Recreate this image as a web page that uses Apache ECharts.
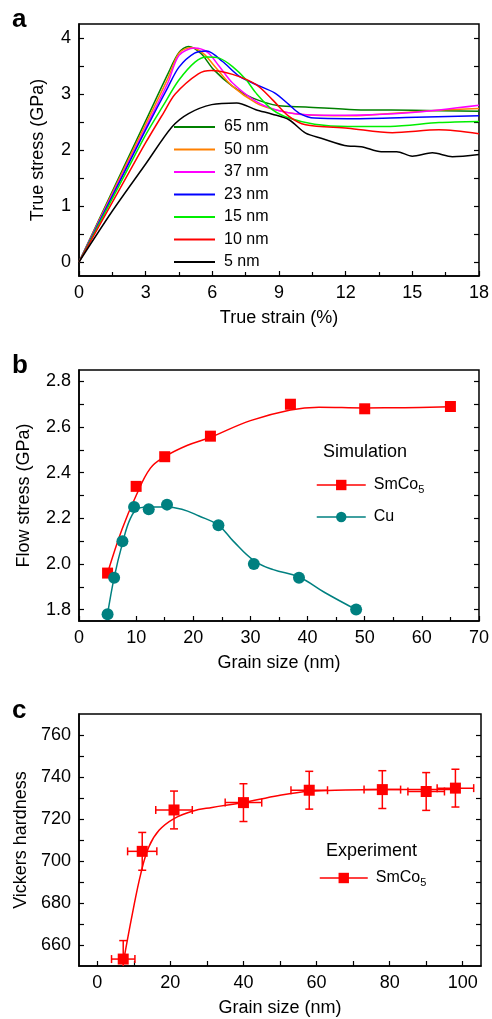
<!DOCTYPE html>
<html>
<head>
<meta charset="utf-8">
<script src="https://cdn.jsdelivr.net/npm/echarts@6/dist/echarts.min.js"></script>
<style>
  html, body { margin: 0; padding: 0; background: #fff; }
  #chart { width: 492px; height: 1019px; }
</style>
</head>
<body>
<div id="chart"></div>
<script>
// ---- panel a: true stress (GPa) vs true strain (%) per grain size ----
var strain65 = [0, 2, 3, 4, 4.5, 4.93, 5.5, 6.05, 6.9, 7.8, 9.0, 10.2, 12.4, 15, 18]
var stress65 = [0, 1.68, 2.52, 3.36, 3.74, 3.85, 3.72, 3.44, 3.14, 2.93, 2.79, 2.77, 2.72, 2.71, 2.69]
var strain50 = [0, 2, 3, 4, 4.5, 5.05, 5.6, 6.2, 6.9, 7.96, 8.7, 9.9, 12.1, 13.2, 16.2, 18]
var stress50 = [0, 1.64, 2.46, 3.28, 3.73, 3.83, 3.72, 3.45, 3.14, 2.84, 2.73, 2.64, 2.61, 2.63, 2.71, 2.74]
var strain37 = [0, 2, 3, 4, 4.5, 5.2, 5.8, 6.3, 6.9, 7.96, 8.85, 9.9, 12, 15, 18]
var stress37 = [0, 1.6, 2.4, 3.2, 3.69, 3.82, 3.74, 3.5, 3.2, 2.87, 2.72, 2.64, 2.62, 2.67, 2.8]
var strain23 = [0, 2, 3, 4, 4.5, 5.2, 5.75, 6.46, 7.2, 7.96, 8.8, 9.45, 9.9, 10.6, 12.1, 14.7, 18]
var stress23 = [0, 1.57, 2.36, 3.12, 3.48, 3.73, 3.77, 3.58, 3.32, 3.17, 3.02, 2.81, 2.66, 2.57, 2.56, 2.58, 2.61]
var strain15 = [0, 2, 3, 3.8, 4.48, 5.22, 5.75, 6.31, 6.91, 7.51, 7.96, 8.7, 9.45, 10.6, 12.1, 14, 16.2, 18]
var stress15 = [0, 1.51, 2.27, 2.8, 3.24, 3.57, 3.66, 3.64, 3.49, 3.26, 3.02, 2.72, 2.57, 2.46, 2.42, 2.42, 2.49, 2.51]
var strain10 = [0, 2, 3, 3.8, 4.33, 5.37, 5.95, 6.91, 7.96, 8.7, 9.45, 10.2, 12.1, 14.1, 16.2, 18]
var stress10 = [0, 1.42, 2.13, 2.66, 3.0, 3.36, 3.42, 3.35, 3.17, 2.9, 2.6, 2.45, 2.39, 2.31, 2.36, 2.29]
var strain5 = [0, 1.5, 3, 4.18, 4.93, 5.97, 7.1, 7.96, 8.7, 9.45, 10.2, 10.9, 12.1, 12.7, 13.6, 14.3, 15, 15.9, 16.8, 18]
var stress5 = [0, 0.91, 1.75, 2.41, 2.65, 2.81, 2.84, 2.72, 2.64, 2.54, 2.3, 2.21, 2.07, 2.06, 1.97, 1.97, 1.89, 1.95, 1.88, 1.92]

// ---- panel b: flow stress (GPa) vs grain size (nm) ----
var smGrain = [5, 10, 15, 23, 37, 50, 65]
var smFlow = [1.96, 2.34, 2.47, 2.56, 2.70, 2.68, 2.69]
var smFitGrain = [5, 7.5, 10, 12.5, 15, 19, 23, 30, 37, 42, 50, 57, 65]
var smFitFlow = [1.96, 2.15, 2.30, 2.42, 2.47, 2.52, 2.555, 2.628, 2.675, 2.687, 2.684, 2.685, 2.689]
var cuGrain = [5, 6.15, 7.6, 9.64, 12.2, 15.4, 24.4, 30.6, 38.5, 48.5]
var cuFlow = [1.78, 1.94, 2.10, 2.25, 2.24, 2.26, 2.17, 2.0, 1.94, 1.80]
var cuFitGrain = [5, 6.15, 7.6, 9, 10.5, 12.5, 15, 18, 21, 24.4, 27, 30.6, 34, 38.5, 43, 48.5]
var cuFitFlow = [1.78, 1.94, 2.09, 2.20, 2.245, 2.25, 2.25, 2.24, 2.21, 2.17, 2.10, 2.015, 1.975, 1.943, 1.875, 1.80]

// ---- panel c: Vickers hardness vs grain size (nm), with error bars ----
var hvGrain = [7.1, 12.3, 21, 40, 58, 78, 90, 98]
var hvValue = [653.3, 704.6, 724.3, 727.8, 733.7, 734, 733.1, 734.7]
var hvGrainErr = [3.2, 4, 5, 5, 5, 5, 5, 5]
var hvValueErr = [8.8, 9, 9, 9, 9, 9, 9, 9]
var hvFitGrain = [7.3, 9.6, 11.9, 14.1, 16.9, 21, 26, 31.4, 39.6, 49.7, 58, 68, 78, 90, 98]
var hvFitValue = [653.4, 674.8, 693.9, 706.7, 714.6, 720.2, 723.7, 725.5, 727.7, 731.2, 733.2, 733.8, 734, 734, 734]

// tick / label positions
var aStressTicks = [0, 0.5, 1, 1.5, 2, 2.5, 3, 3.5, 4]
var aStressLabels = [0, 1, 2, 3, 4]
var bFlowTicks = [1.8, 1.9, 2.0, 2.1, 2.2, 2.3, 2.4, 2.5, 2.6, 2.7, 2.8]
var bFlowLabels = [1.8, 2.0, 2.2, 2.4, 2.6, 2.8]
var cGrainTicks = [0, 10, 20, 30, 40, 50, 60, 70, 80, 90, 100]
var cGrainLabels = [0, 20, 40, 60, 80, 100]
var cHvTicks = [660, 670, 680, 690, 700, 710, 720, 730, 740, 750, 760]
var cHvLabels = [660, 680, 700, 720, 740, 760]

var FONT = 'Liberation Sans, Arial, Helvetica, sans-serif'

function pairs(xs, ys) {
  return xs.map(function (x, i) { return [x, ys[i]] })
}

var curvesA = [
  { name: '65 nm', x: strain65, y: stress65, color: '#008000' },
  { name: '50 nm', x: strain50, y: stress50, color: '#ff8000' },
  { name: '37 nm', x: strain37, y: stress37, color: '#ff00ff' },
  { name: '23 nm', x: strain23, y: stress23, color: '#0000ff' },
  { name: '15 nm', x: strain15, y: stress15, color: '#00ee00' },
  { name: '10 nm', x: strain10, y: stress10, color: '#ff0000' },
  { name: '5 nm', x: strain5, y: stress5, color: '#000000' }
]

var labelStyle = { color: '#000', fontSize: 18, fontFamily: FONT, margin: 8 }
var nameStyle = { color: '#000', fontSize: 18, fontFamily: FONT }
var lineStyleAx = { color: '#000', width: 1.5 }
var tickLine = { color: '#000', width: 1.2 }

function xAxisFor(grid, opt) {
  return Object.assign({
    type: 'value',
    gridIndex: grid,
    nameLocation: 'middle',
    nameGap: 33,
    nameTextStyle: nameStyle,
    axisLine: { show: true, onZero: false, lineStyle: lineStyleAx },
    axisTick: { show: true, inside: true, length: 5, lineStyle: tickLine },
    axisLabel: Object.assign({}, labelStyle),
    splitLine: { show: false }
  }, opt)
}

function yAxisFor(grid, opt) {
  return Object.assign({
    type: 'value',
    gridIndex: grid,
    nameLocation: 'middle',
    nameTextStyle: nameStyle,
    axisLine: { show: true, onZero: false, lineStyle: lineStyleAx },
    axisTick: { show: true, inside: true, length: 5, lineStyle: tickLine },
    axisLabel: Object.assign({}, labelStyle),
    splitLine: { show: false }
  }, opt)
}

function mirrorY(grid, min, max, ticks) {
  return {
    type: 'value', gridIndex: grid, position: 'right', min: min, max: max,
    axisLine: { show: false, onZero: false },
    axisTick: { show: true, inside: true, length: 5, customValues: ticks, lineStyle: tickLine },
    axisLabel: { show: false },
    splitLine: { show: false }
  }
}

var series = []

curvesA.forEach(function (c) {
  series.push({
    name: c.name, type: 'line', xAxisIndex: 0, yAxisIndex: 0,
    data: pairs(c.x, c.y), smooth: 0.3, symbol: 'none',
    lineStyle: { width: 1.5, color: c.color }, itemStyle: { color: c.color }
  })
})

// panel b fits and markers
series.push({
  name: 'SmCo5 fit', type: 'line', xAxisIndex: 1, yAxisIndex: 2,
  data: pairs(smFitGrain, smFitFlow), smooth: 0.4, symbol: 'none',
  lineStyle: { width: 1.5, color: '#ff0000' }
})
series.push({
  name: 'Cu fit', type: 'line', xAxisIndex: 1, yAxisIndex: 2,
  data: pairs(cuFitGrain, cuFitFlow), smooth: 0.4, symbol: 'none',
  lineStyle: { width: 1.5, color: '#008080' }
})
series.push({
  name: 'SmCo5', type: 'line', xAxisIndex: 1, yAxisIndex: 2,
  data: pairs(smGrain, smFlow), symbol: 'rect', symbolSize: 11, z: 5,
  lineStyle: { width: 0, opacity: 0, color: '#ff0000' }, itemStyle: { color: '#ff0000' }
})
series.push({
  name: 'Cu', type: 'line', xAxisIndex: 1, yAxisIndex: 2,
  data: pairs(cuGrain, cuFlow), symbol: 'circle', symbolSize: 12, z: 5,
  lineStyle: { width: 0, opacity: 0, color: '#008080' }, itemStyle: { color: '#008080' }
})

// panel c fit, error bars and markers
series.push({
  name: 'Hardness fit', type: 'line', xAxisIndex: 2, yAxisIndex: 4,
  data: pairs(hvFitGrain, hvFitValue), smooth: 0.4, symbol: 'none',
  lineStyle: { width: 1.5, color: '#ff0000' }
})
series.push({
  name: 'Hardness error', type: 'custom', xAxisIndex: 2, yAxisIndex: 4, clip: true, z: 4,
  data: hvGrain.map(function (g, i) { return [g, hvValue[i], hvGrainErr[i], hvValueErr[i]] }),
  renderItem: function (params, api) {
    var x = api.value(0), y = api.value(1), dx = api.value(2), dy = api.value(3)
    var c = api.coord([x, y])
    var l = api.coord([x - dx, y])[0], r = api.coord([x + dx, y])[0]
    var t = api.coord([x, y + dy])[1], b = api.coord([x, y - dy])[1]
    var cap = 4
    var st = { stroke: '#ff0000', lineWidth: 1.5 }
    return {
      type: 'group',
      children: [
        { type: 'line', shape: { x1: l, y1: c[1], x2: r, y2: c[1] }, style: st },
        { type: 'line', shape: { x1: l, y1: c[1] - cap, x2: l, y2: c[1] + cap }, style: st },
        { type: 'line', shape: { x1: r, y1: c[1] - cap, x2: r, y2: c[1] + cap }, style: st },
        { type: 'line', shape: { x1: c[0], y1: t, x2: c[0], y2: b }, style: st },
        { type: 'line', shape: { x1: c[0] - cap, y1: t, x2: c[0] + cap, y2: t }, style: st },
        { type: 'line', shape: { x1: c[0] - cap, y1: b, x2: c[0] + cap, y2: b }, style: st }
      ]
    }
  }
})
series.push({
  name: 'SmCo5', type: 'line', xAxisIndex: 2, yAxisIndex: 4,
  data: pairs(hvGrain, hvValue), symbol: 'rect', symbolSize: 11, z: 5,
  lineStyle: { width: 0, opacity: 0, color: '#ff0000' }, itemStyle: { color: '#ff0000' }
})

var subRich = {
  s: { fontSize: 11, fontFamily: FONT, color: '#000', padding: [9, 0, 0, 0] }
}
function subFormatter(name) {
  return name === 'SmCo5' ? 'SmCo{s|5}' : name
}

var chart = echarts.init(document.getElementById('chart'))
chart.setOption({
  animation: false,
  backgroundColor: '#fff',
  textStyle: { fontFamily: FONT },
  grid: [
    { left: 79, top: 24, width: 402, height: 252, show: true, borderColor: '#000', borderWidth: 1.5 },
    { left: 79, top: 370, width: 402, height: 251, show: true, borderColor: '#000', borderWidth: 1.5 },
    { left: 79, top: 714, width: 402, height: 252, show: true, borderColor: '#000', borderWidth: 1.5 }
  ],
  xAxis: [
    xAxisFor(0, { name: 'True strain (%)', min: 0, max: 18, interval: 3,
      minorTick: { show: true, splitNumber: 2, length: 4, lineStyle: tickLine } }),
    xAxisFor(1, { name: 'Grain size (nm)', min: 0, max: 70, interval: 10,
      minorTick: { show: true, splitNumber: 2, length: 4, lineStyle: tickLine } }),
    xAxisFor(2, { name: 'Grain size (nm)', min: -5, max: 105,
      axisTick: { show: true, inside: true, length: 5, customValues: cGrainTicks, lineStyle: tickLine },
      axisLabel: Object.assign({ customValues: cGrainLabels }, labelStyle) })
  ],
  yAxis: [
    yAxisFor(0, { name: 'True stress (GPa)', nameGap: 32, min: -0.25, max: 4.25,
      axisTick: { show: true, inside: true, length: 5, customValues: aStressTicks, lineStyle: tickLine },
      axisLabel: Object.assign({ customValues: aStressLabels }, labelStyle) }),
    mirrorY(0, -0.25, 4.25, aStressTicks),
    yAxisFor(1, { name: 'Flow stress (GPa)', nameGap: 46, min: 1.75, max: 2.85,
      axisTick: { show: true, inside: true, length: 5, customValues: bFlowTicks, lineStyle: tickLine },
      axisLabel: Object.assign({ customValues: bFlowLabels, formatter: function (v) { return v.toFixed(1) } }, labelStyle) }),
    mirrorY(1, 1.75, 2.85, bFlowTicks),
    yAxisFor(2, { name: 'Vickers hardness', nameGap: 48, min: 650, max: 770,
      axisTick: { show: true, inside: true, length: 5, customValues: cHvTicks, lineStyle: tickLine },
      axisLabel: Object.assign({ customValues: cHvLabels }, labelStyle) }),
    mirrorY(2, 650, 770, cHvTicks)
  ],
  legend: [
    {
      data: curvesA.map(function (c) { return c.name }),
      orient: 'vertical', left: 173, top: 119, padding: 0,
      itemWidth: 41, itemHeight: 14, itemGap: 6.5,
      itemStyle: { opacity: 0 },
      textStyle: { fontSize: 16, color: '#000', fontFamily: FONT, padding: [0, 0, 0, 4] },
      selectedMode: false
    },
    {
      data: ['SmCo5', 'Cu'],
      orient: 'vertical', left: 316, top: 477, padding: 0,
      itemWidth: 49, itemHeight: 13, itemGap: 14,
      lineStyle: { width: 1.5, opacity: 1 },
      formatter: subFormatter,
      textStyle: { fontSize: 16, color: '#000', fontFamily: FONT, padding: [0, 0, 0, 3], rich: subRich },
      selectedMode: false
    },
    {
      data: ['SmCo5'],
      orient: 'vertical', left: 319, top: 870, padding: 0,
      itemWidth: 48, itemHeight: 13,
      lineStyle: { width: 1.5, opacity: 1 },
      formatter: subFormatter,
      textStyle: { fontSize: 16, color: '#000', fontFamily: FONT, padding: [0, 0, 0, 3], rich: subRich },
      selectedMode: false
    }
  ],
  graphic: [
    { type: 'text', left: 12, top: 7, style: { text: 'a', font: 'bold 26px ' + FONT, fill: '#000' } },
    { type: 'text', left: 12, top: 353, style: { text: 'b', font: 'bold 26px ' + FONT, fill: '#000' } },
    { type: 'text', left: 12, top: 698, style: { text: 'c', font: 'bold 26px ' + FONT, fill: '#000' } },
    { type: 'text', left: 323, top: 443, style: { text: 'Simulation', font: '18px ' + FONT, fill: '#000' } },
    { type: 'text', left: 326, top: 842, style: { text: 'Experiment', font: '18px ' + FONT, fill: '#000' } }
  ],
  series: series
})
</script>
</body>
</html>
